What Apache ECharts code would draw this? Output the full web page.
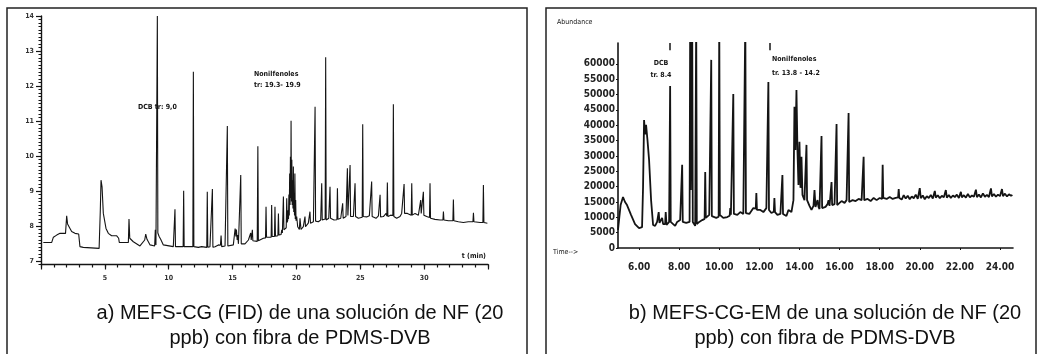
<!DOCTYPE html>
<html>
<head>
<meta charset="utf-8">
<script src="https://cdn.jsdelivr.net/npm/echarts@6/dist/echarts.min.js"></script>
<style>
  html, body { margin: 0; padding: 0; background: #fff; }
  #chart { width: 1041px; height: 354px; }
</style>
</head>
<body>
<div id="chart"></div>
<script>
// a) MEFS-CG (FID) chromatogram: retention time (min) and detector signal
const fidTime = [
  0.18, 0.84, 0.97, 1.23, 1.49, 1.92, 2.01, 2.08, 2.27, 2.40, 2.66, 2.95, 3.05, 3.31, 4.55,
  4.64, 4.70, 4.78, 4.88, 5.09, 5.27, 5.53, 5.93, 6.08, 6.13, 6.84, 6.89, 6.95, 7.23, 7.75,
  8.12, 8.20, 8.30, 8.54, 8.90, 8.95, 9.00, 9.07, 9.11, 9.15, 9.25, 9.37, 9.58, 10.36, 10.45,
  10.49, 10.53, 11.13, 11.17, 11.21, 11.89, 11.93, 11.97, 12.32, 12.58, 12.98, 13.02, 13.06, 13.23, 13.38,
  13.42, 13.46, 13.63, 13.89, 14.05, 14.10, 14.15, 14.41, 14.55, 14.59, 14.63, 15.06, 15.15, 15.20, 15.26,
  15.30, 15.36, 15.40, 15.46, 15.60, 15.64, 15.68, 15.97, 16.24, 16.38, 16.42, 16.46, 16.51, 16.55, 16.59,
  16.93, 16.98, 17.02, 17.41, 17.58, 17.62, 17.66, 18.02, 18.06, 18.10, 18.28, 18.32, 18.36, 18.55, 18.59,
  18.63, 18.80, 18.85, 18.90, 18.94, 18.98, 19.02, 19.20, 19.24, 19.28, 19.32, 19.35, 19.38, 19.41, 19.44,
  19.47, 19.50, 19.53, 19.56, 19.58, 19.61, 19.64, 19.67, 19.70, 19.73, 19.76, 19.79, 19.82, 19.85, 19.88,
  19.91, 19.94, 19.97, 20.02, 20.10, 20.23, 20.28, 20.36, 20.54, 20.63, 20.67, 20.71, 20.93, 21.02, 21.06,
  21.10, 21.33, 21.42, 21.46, 21.50, 21.72, 21.90, 21.94, 21.98, 22.02, 22.16, 22.25, 22.29, 22.33, 22.53,
  22.59, 22.63, 22.67, 22.94, 23.17, 23.21, 23.25, 23.47, 23.58, 23.62, 23.66, 23.88, 23.95, 23.99, 24.03,
  24.10, 24.16, 24.20, 24.24, 24.46, 24.55, 24.59, 24.63, 24.85, 25.15, 25.19, 25.23, 25.50, 25.71, 25.85,
  25.89, 25.93, 26.23, 26.42, 26.51, 26.55, 26.59, 26.81, 27.02, 27.08, 27.12, 27.16, 27.38, 27.55, 27.59,
  27.63, 27.85, 28.11, 28.24, 28.39, 28.43, 28.47, 28.69, 28.84, 28.99, 29.03, 29.07, 29.29, 29.55, 29.69,
  29.73, 29.77, 29.90, 29.94, 29.98, 30.20, 30.42, 30.46, 30.50, 30.85, 31.25, 31.47, 31.51, 31.55, 31.90,
  32.25, 32.29, 32.33, 32.68, 33.07, 33.46, 33.82, 33.86, 33.90, 34.38, 34.60, 34.64, 34.68, 34.95
];
const fidSignal = [
  7.53, 7.53, 7.68, 7.74, 7.79, 7.79, 8.29, 8.06, 7.93, 7.84, 7.79, 7.77, 7.41, 7.39, 7.36,
  8.40, 9.31, 9.12, 8.36, 7.93, 7.79, 7.72, 7.72, 7.65, 7.53, 7.53, 8.20, 7.65, 7.55, 7.43,
  7.60, 7.77, 7.62, 7.46, 7.43, 7.89, 7.46, 7.46, 14.00, 7.80, 7.70, 7.62, 7.46, 7.41, 7.41,
  8.48, 7.41, 7.41, 9.01, 7.41, 7.41, 12.41, 7.41, 7.39, 7.41, 7.39, 8.98, 7.39, 7.41, 7.40,
  9.06, 7.39, 7.41, 7.46, 7.45, 7.73, 7.41, 7.43, 7.43, 10.86, 7.43, 7.46, 7.50, 7.93, 7.70,
  7.90, 7.60, 7.74, 7.49, 7.49, 9.46, 7.49, 7.49, 7.60, 7.58, 7.80, 7.60, 7.62, 7.89, 7.58,
  7.56, 10.28, 7.58, 7.65, 7.66, 8.55, 7.68, 7.68, 8.60, 7.70, 7.70, 8.55, 7.71, 7.72, 8.36,
  7.74, 7.76, 7.89, 7.80, 7.82, 8.84, 7.89, 7.95, 8.79, 8.10, 8.17, 8.45, 8.20, 8.90, 8.30,
  9.50, 8.60, 9.98, 8.80, 11.01, 8.70, 9.89, 8.60, 9.31, 8.50, 9.70, 8.40, 8.93, 8.30, 9.50,
  8.20, 8.74, 8.15, 8.27, 7.98, 7.90, 8.22, 7.90, 7.98, 8.00, 8.27, 7.98, 8.08, 8.05, 8.41,
  8.08, 8.12, 8.12, 11.41, 8.14, 8.12, 8.17, 8.15, 9.22, 8.17, 8.22, 8.20, 12.82, 8.17, 8.22,
  8.20, 9.12, 8.22, 8.17, 8.18, 9.08, 8.19, 8.22, 8.22, 8.65, 8.22, 8.27, 8.26, 9.65, 8.30,
  8.30, 8.28, 9.74, 8.27, 8.27, 8.26, 9.22, 8.27, 8.22, 8.25, 10.91, 8.27, 8.26, 8.29, 8.27,
  9.27, 8.27, 8.22, 8.29, 8.27, 8.89, 8.26, 8.27, 8.36, 8.28, 9.24, 8.27, 8.31, 8.30, 11.48,
  8.27, 8.22, 8.27, 8.36, 8.34, 9.20, 8.36, 8.36, 8.31, 8.31, 9.22, 8.31, 8.36, 8.31, 8.33,
  8.74, 8.36, 8.33, 8.98, 8.31, 8.27, 8.24, 9.22, 8.22, 8.19, 8.17, 8.17, 8.41, 8.17, 8.15,
  8.15, 8.76, 8.15, 8.12, 8.10, 8.12, 8.12, 8.38, 8.12, 8.10, 8.10, 9.17, 8.10, 8.08
];
const fidMajorTicks = [7, 8, 9, 10, 11, 12, 13, 14];

// b) MEFS-CG-EM total ion chromatogram: time (min) and abundance
const msTime = [
  4.95, 5.02, 5.08, 5.20, 5.30, 5.40, 5.60, 5.80, 6.00, 6.15, 6.20, 6.25, 6.30, 6.35, 6.42,
  6.50, 6.60, 6.70, 6.80, 6.90, 6.95, 6.98, 7.02, 7.15, 7.20, 7.25, 7.30, 7.33, 7.37, 7.50,
  7.52, 7.55, 7.58, 7.70, 7.80, 7.90, 8.05, 8.12, 8.15, 8.18, 8.35, 8.52, 8.55, 8.58, 8.62,
  8.65, 8.68, 8.80, 8.82, 8.85, 8.88, 9.00, 9.15, 9.27, 9.30, 9.33, 9.50, 9.57, 9.60, 9.63,
  9.85, 9.97, 10.00, 10.03, 10.20, 10.40, 10.52, 10.55, 10.58, 10.67, 10.70, 10.73, 10.90, 11.05, 11.20,
  11.27, 11.30, 11.33, 11.50, 11.70, 11.82, 11.85, 11.88, 12.05, 12.20, 12.35, 12.42, 12.45, 12.48, 12.60,
  12.72, 12.75, 12.78, 12.90, 13.05, 13.12, 13.15, 13.18, 13.35, 13.45, 13.60, 13.70, 13.75, 13.80, 13.85,
  13.90, 13.95, 14.00, 14.05, 14.10, 14.15, 14.25, 14.32, 14.35, 14.38, 14.50, 14.60, 14.70, 14.75, 14.80,
  14.90, 14.95, 15.00, 15.07, 15.10, 15.13, 15.30, 15.40, 15.45, 15.50, 15.57, 15.60, 15.63, 15.75, 15.82,
  15.85, 15.88, 16.00, 16.10, 16.25, 16.35, 16.42, 16.45, 16.48, 16.65, 16.80, 16.95, 17.10, 17.17, 17.20,
  17.23, 17.40, 17.55, 17.70, 17.85, 18.00, 18.12, 18.15, 18.18, 18.35, 18.50, 18.65, 18.80, 18.92, 18.95,
  18.98, 19.10, 19.20, 19.30, 19.40, 19.50, 19.60, 19.70, 19.80, 19.90, 20.00, 20.05, 20.15, 20.25, 20.35,
  20.45, 20.55, 20.65, 20.75, 20.80, 20.90, 21.00, 21.10, 21.20, 21.30, 21.35, 21.45, 21.55, 21.65, 21.75,
  21.85, 21.95, 22.05, 22.10, 22.20, 22.30, 22.40, 22.50, 22.60, 22.70, 22.80, 22.85, 22.95, 23.05, 23.15,
  23.25, 23.35, 23.45, 23.55, 23.60, 23.70, 23.80, 23.90, 24.00, 24.10, 24.15, 24.25, 24.35, 24.45, 24.55,
  24.62
];
const msAbund = [
  5900, 6500, 14000, 16600, 15000, 14000, 10800, 7800, 6500, 6800, 20000, 41700, 37000, 40100, 35200,
  28700, 15600, 7500, 7200, 8500, 8600, 11700, 8200, 9800, 7800, 7500, 7800, 11700, 7500, 8500,
  8500, 52800, 8500, 7800, 7200, 8500, 9100, 9000, 27100, 8500, 8200, 8500, 75000, 18900, 19000,
  75000, 8500, 7200, 7500, 75000, 7800, 8500, 9100, 9500, 24800, 9800, 10800, 10500, 61300, 10400,
  9800, 10200, 75000, 10800, 9800, 10100, 10500, 13000, 10800, 10700, 50200, 11100, 10800, 11700, 11100,
  11200, 75000, 11400, 11100, 13000, 12800, 17900, 12400, 12400, 11700, 13000, 12400, 54100, 12400, 11400,
  11800, 16300, 11700, 10800, 11100, 11000, 23800, 11100, 10400, 12400, 11700, 15600, 46000, 31900, 51500,
  31900, 20500, 34600, 19600, 29700, 17300, 15600, 15200, 33600, 15600, 13700, 12400, 13700, 18900, 13400,
  15600, 13400, 12700, 13000, 36500, 13000, 13400, 14300, 15600, 13700, 14000, 21500, 14000, 14300, 14200,
  40400, 14000, 14700, 15300, 14700, 15600, 15200, 44000, 15000, 15600, 15300, 16000, 15600, 15800, 29700,
  15600, 16000, 15300, 16300, 15600, 16300, 16000, 27100, 16300, 16000, 16600, 16000, 16300, 16500, 19200,
  16300, 15800, 17200, 16100, 17000, 15900, 16800, 16200, 17400, 16000, 19500, 16200, 17100, 15900, 16900,
  16300, 17300, 16100, 18600, 16400, 17200, 16200, 17000, 16500, 18900, 16400, 17300, 16300, 17100, 16600,
  17400, 16300, 18300, 16500, 17200, 16400, 17600, 16500, 17100, 16700, 19000, 16600, 17400, 16500, 17800,
  16700, 17300, 16600, 19400, 16800, 17600, 16700, 17400, 16900, 19200, 16900, 17700, 16800, 17500, 17000,
  17300
];
const msYTicks = [0, 5000, 10000, 15000, 20000, 25000, 30000, 35000, 40000, 45000, 50000, 55000, 60000];
const msXTicks = [6, 8, 10, 12, 14, 16, 18, 20, 22, 24];
// retention-time markers drawn above the identified peaks
const msMarkerTimes = [7.55, 12.5];

const fidData = fidTime.map((t, i) => [t, fidSignal[i]]);
const msData = msTime.map((t, i) => [t, msAbund[i]]);

const INK = '#141414';
const narrow = "'Liberation Sans Narrow', 'DejaVu Sans Condensed', 'Liberation Sans', sans-serif";
const MS_TOP = 66800;

const chart = echarts.init(document.getElementById('chart'), null, { renderer: 'canvas' });

chart.setOption({
  animation: false,
  backgroundColor: '#ffffff',
  grid: [
    { left: 41, right: 553, top: 16, bottom: 89.5 },
    { left: 618, right: 28, top: 43, bottom: 106 }
  ],
  xAxis: [
    {
      gridIndex: 0, type: 'value', position: 'bottom', min: 0, max: 35, interval: 5,
      axisLine: { onZero: false, lineStyle: { color: INK, width: 1.4 } },
      axisTick: { length: 5, lineStyle: { color: INK, width: 1.2 } },
      axisLabel: {
        formatter: v => (v > 0 && v < 35) ? String(v) : '',
        fontSize: 7, fontFamily: narrow, fontWeight: 'bold', color: '#333', margin: 10
      },
      splitLine: { show: false }
    },
    {
      gridIndex: 0, type: 'value', position: 'bottom', min: 0, max: 35, interval: 1,
      axisLine: { show: false, onZero: false },
      axisTick: { length: 3, lineStyle: { color: INK, width: 1.2 } },
      axisLabel: { show: false },
      splitLine: { show: false }
    },
    {
      gridIndex: 1, type: 'value', position: 'bottom', min: 4.95, max: 24.65,
      axisLine: { onZero: false, lineStyle: { color: INK, width: 1.6 } },
      axisTick: { customValues: msXTicks, length: 2, lineStyle: { color: INK } },
      axisLabel: {
        customValues: msXTicks,
        formatter: v => Number(v).toFixed(2),
        fontSize: 10, fontFamily: narrow, fontWeight: 'bold', color: '#222', margin: 14
      },
      splitLine: { show: false }
    }
  ],
  yAxis: [
    {
      gridIndex: 0, type: 'value', position: 'left', min: 6.9, max: 14,
      axisLine: { onZero: false, lineStyle: { color: INK, width: 1.4 } },
      axisTick: { customValues: fidMajorTicks, length: 5, lineStyle: { color: INK, width: 1.2 } },
      axisLabel: {
        customValues: fidMajorTicks,
        fontSize: 7, fontFamily: narrow, fontWeight: 'bold', color: '#333', margin: 7
      },
      splitLine: { show: false }
    },
    {
      gridIndex: 0, type: 'value', position: 'left', min: 6.9, max: 14, interval: 0.1,
      axisLine: { show: false, onZero: false },
      axisTick: { length: 2.5, lineStyle: { color: INK, width: 1 } },
      axisLabel: { show: false },
      splitLine: { show: false }
    },
    {
      gridIndex: 1, type: 'value', position: 'left', min: 0, max: MS_TOP,
      axisLine: { onZero: false, lineStyle: { color: INK, width: 1.6 } },
      axisTick: { customValues: msYTicks, length: 2, lineStyle: { color: INK } },
      axisLabel: {
        customValues: msYTicks,
        formatter: v => String(v),
        fontSize: 10, fontFamily: narrow, fontWeight: 'bold', color: '#222', margin: 3
      },
      splitLine: { show: false }
    }
  ],
  series: [
    {
      type: 'line', xAxisIndex: 0, yAxisIndex: 0, data: fidData,
      showSymbol: false, clip: true,
      lineStyle: { color: INK, width: 1.1 }
    },
    {
      type: 'line', xAxisIndex: 2, yAxisIndex: 2, data: msData,
      showSymbol: false, clip: true,
      lineStyle: { color: INK, width: 1.8 },
      markLine: {
        silent: true, symbol: ['none', 'none'], label: { show: false },
        lineStyle: { color: INK, width: 1.5, type: 'solid' },
        data: msMarkerTimes.map(t => [{ coord: [t, 64400] }, { coord: [t, MS_TOP] }])
      }
    }
  ],
  graphic: [
    // panel frames
    { type: 'rect', shape: { x: 7, y: 8, width: 520, height: 360 }, style: { fill: 'none', stroke: '#222', lineWidth: 1.5 } },
    { type: 'rect', shape: { x: 546, y: 8, width: 490, height: 360 }, style: { fill: 'none', stroke: '#222', lineWidth: 1.5 } },
    // left chart annotations
    { type: 'text', x: 138, y: 107, style: { text: 'DCB tr: 9,0', font: 'bold 7px ' + narrow, fill: INK, verticalAlign: 'middle' } },
    { type: 'text', x: 254, y: 74, style: { text: 'Nonilfenoles', font: 'bold 7px ' + narrow, fill: INK, verticalAlign: 'middle' } },
    { type: 'text', x: 254, y: 85, style: { text: 'tr: 19.3- 19.9', font: 'bold 7px ' + narrow, fill: INK, verticalAlign: 'middle' } },
    { type: 'text', x: 486, y: 256, style: { text: 't (min)', font: 'bold 7px ' + narrow, fill: INK, align: 'right', verticalAlign: 'middle' } },
    // right chart annotations
    { type: 'text', x: 557, y: 22, style: { text: 'Abundance', font: '7px ' + narrow, fill: INK, verticalAlign: 'middle' } },
    { type: 'text', x: 553, y: 252, style: { text: 'Time-->', font: '7px ' + narrow, fill: INK, verticalAlign: 'middle' } },
    { type: 'text', x: 661, y: 63, style: { text: 'DCB', font: 'bold 7px ' + narrow, fill: INK, align: 'center', verticalAlign: 'middle' } },
    { type: 'text', x: 661, y: 75, style: { text: 'tr. 8.4', font: 'bold 7px ' + narrow, fill: INK, align: 'center', verticalAlign: 'middle' } },
    { type: 'text', x: 772, y: 59, style: { text: 'Nonilfenoles', font: 'bold 7px ' + narrow, fill: INK, verticalAlign: 'middle' } },
    { type: 'text', x: 772, y: 73, style: { text: 'tr. 13.8 - 14.2', font: 'bold 7px ' + narrow, fill: INK, verticalAlign: 'middle' } },
    // captions
    { type: 'text', x: 300, y: 313, style: { text: 'a) MEFS-CG (FID) de una solución de NF (20', font: '20px "Liberation Sans", Arial, sans-serif', fill: '#111', align: 'center', verticalAlign: 'middle' } },
    { type: 'text', x: 300, y: 338, style: { text: 'ppb) con fibra de PDMS-DVB', font: '20px "Liberation Sans", Arial, sans-serif', fill: '#111', align: 'center', verticalAlign: 'middle' } },
    { type: 'text', x: 825, y: 313, style: { text: 'b) MEFS-CG-EM de una solución de NF (20', font: '20px "Liberation Sans", Arial, sans-serif', fill: '#111', align: 'center', verticalAlign: 'middle' } },
    { type: 'text', x: 825, y: 338, style: { text: 'ppb) con fibra de PDMS-DVB', font: '20px "Liberation Sans", Arial, sans-serif', fill: '#111', align: 'center', verticalAlign: 'middle' } }
  ]
});
</script>
</body>
</html>
